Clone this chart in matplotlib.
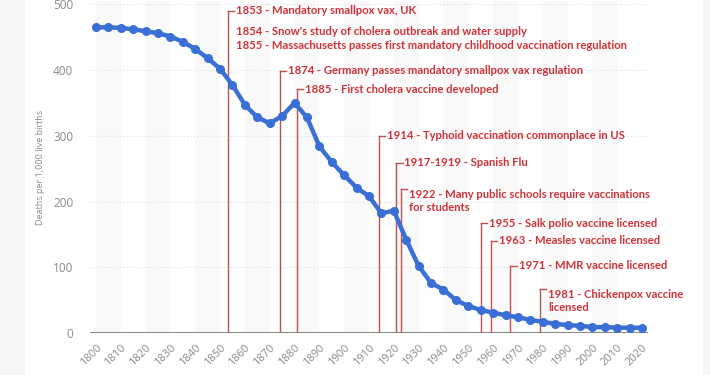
import numpy as np
import matplotlib
matplotlib.use("Agg")
import matplotlib.pyplot as plt
from matplotlib.patches import Rectangle

# child mortality, deaths per 1,000 live births, every 5 years
years = list(range(1800, 2021, 5))
deaths = [465, 465, 464, 462, 459, 456, 451, 443, 432, 418, 402,
          377, 347, 328, 319, 330, 350, 328, 284, 260, 240, 221, 208,
          182, 186, 142, 102, 76, 66, 50, 41, 35, 31, 27, 24, 20, 17,
          14, 12, 11, 9, 9, 8, 8, 8]

# events: year where the marker line is drawn, and the label lines
event_years = [1853, 1874, 1881, 1914, 1921, 1923, 1955, 1959, 1967, 1979]
event_labels = [
    "1853 - Mandatory smallpox vax, UK",
    "1874 - Germany passes mandatory smallpox vax regulation",
    "1885 - First cholera vaccine developed",
    "1914 - Typhoid vaccination commonplace in US",
    "1917-1919 - Spanish Flu",
    "1922 - Many public schools require vaccinations\nfor students",
    "1955 - Salk polio vaccine licensed",
    "1963 - Measles vaccine licensed",
    "1971 - MMR vaccine licensed",
    "1981 - Chickenpox vaccine\nlicensed",
]
extra_labels = [
    "1854 - Snow's study of cholera outbreak and water supply",
    "1855 - Massachusetts passes first mandatory childhood vaccination regulation",
]

# layout: top of each marker line (data units)
event_tops = [490, 399, 371, 300, 259, 219, 167, 140, 102, 67]
extra_tops = [458, 437]

blue = "#3a6fd6"
red_line = "#c0504d"
red_text = "#cf3238"
gray = "#8a8a8a"

fig = plt.figure(figsize=(7.1, 3.75), dpi=100, facecolor="#f4f5f7")
fig.patches.append(Rectangle((25 / 710, 0), 678 / 710, 1, transform=fig.transFigure,
                             facecolor="white", edgecolor="none", zorder=-5))
ax = fig.add_axes([90 / 710, 42 / 375, 558 / 710, 332 / 375])
ax.set_zorder(2)
ax.set_facecolor("none")

ax.set_xlim(1797.6, 2022.4)
ax.set_ylim(0, 505)

# alternating column bands
for x0 in range(1800, 2020, 20):
    ax.axvspan(x0, x0 + 10, color="#f9f9f9", zorder=0, lw=0)

ax.set_yticks([0, 100, 200, 300, 400, 500])
for v in [100, 200, 300, 400, 500]:
    ax.axhline(v, color="#dddddd", lw=0.8, ls=(0, (1, 2)), zorder=1)
ax.axhline(0, color=gray, lw=2.2, zorder=3)

for s in ax.spines.values():
    s.set_visible(False)
ax.tick_params(axis="both", length=0, colors=gray, labelsize=8.5)
ax.set_xticks(range(1800, 2021, 10))
for lab in ax.get_xticklabels():
    lab.set_rotation(45)
    lab.set_rotation_mode("anchor")
    lab.set_ha("right")
    lab.set_fontfamily("Open Sans")
    lab.set_fontsize(8)
for lab in ax.get_yticklabels():
    lab.set_fontfamily("Open Sans")
ax.tick_params(axis="y", pad=12)
ax.tick_params(axis="x", pad=7)
ax.set_ylabel("Deaths per 1,000 live births", fontsize=6.5, color=gray,
              fontfamily="Open Sans")
ax.yaxis.set_label_coords(-0.081, 0.5)

ax.plot(years, deaths, color=blue, lw=3.2, marker="o", ms=5.5, zorder=5,
        solid_capstyle="round")

font = dict(fontfamily="Lato", fontweight="bold", fontsize=8.1, color=red_text)
for yr, top, lab in zip(event_years, event_tops, event_labels):
    ax.plot([yr, yr], [0, top], color=red_line, lw=1, zorder=4)
    ax.plot([yr, yr + 2.5], [top, top], color=red_line, lw=1, zorder=4)
    ax.text(yr + 3.3, top, lab, va="top" if "\n" in lab else "center",
            linespacing=1.25, zorder=6, **font)

for top, lab in zip(extra_tops, extra_labels):
    ax.text(event_years[0] + 3.3, top, lab, va="center", zorder=6, **font)

fig.savefig("out.png", dpi=100, facecolor=fig.get_facecolor())
